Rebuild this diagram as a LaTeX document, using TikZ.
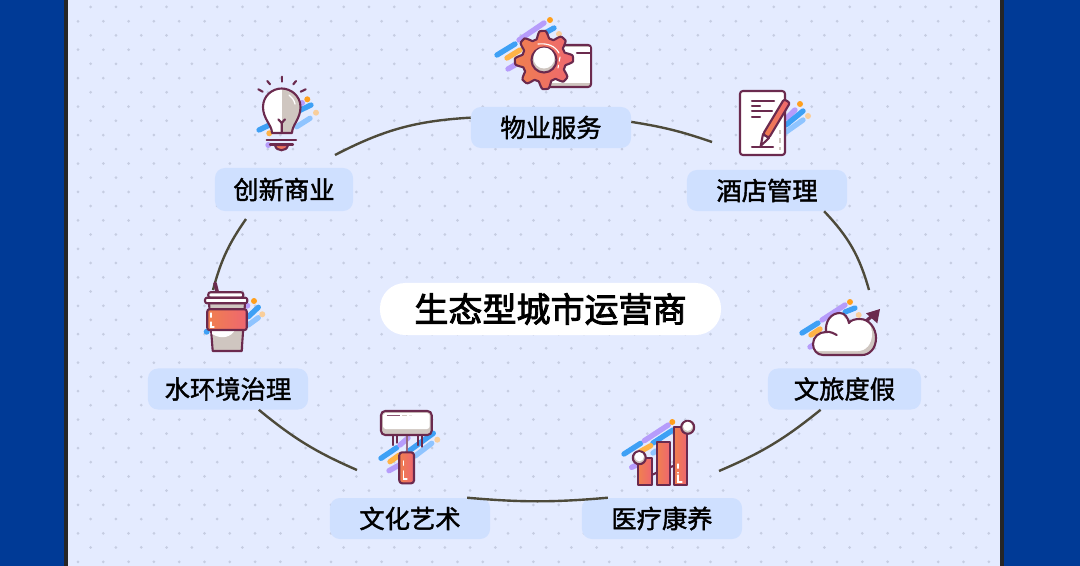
\documentclass[tikz,border=0pt]{standalone}
\usepackage{fontspec}
\usepackage{xcolor}
\setmainfont{Noto Sans CJK SC}
\newfontfamily\pillfont[FakeBold=1.6]{Noto Sans CJK SC}
\newfontfamily\hubfont[FakeBold=2.6]{Noto Sans CJK SC}
\definecolor{framecol}{HTML}{003A96}
\definecolor{panelcol}{HTML}{E4EBFF}
\definecolor{dotcol}{HTML}{C6CDE2}
\definecolor{pillcol}{HTML}{CFE0FF}
\definecolor{ringcol}{HTML}{4D4A3A}
\definecolor{inkcol}{HTML}{6B2A4E}
\definecolor{shadecol}{HTML}{CFC6C0}
\definecolor{redL}{HTML}{F0804F}
\definecolor{redR}{HTML}{EE6670}
\definecolor{bluecol}{HTML}{3EA0F5}
\definecolor{purplecol}{HTML}{B69CFB}
\definecolor{orangecol}{HTML}{FFB347}
\definecolor{ambercol}{HTML}{FF9F1C}
\definecolor{skycol}{HTML}{8FC4FF}
\definecolor{peachcol}{HTML}{F9CE9B}
\usetikzlibrary{positioning}
\tikzset{
    pill/.style={fill=pillcol, rounded corners=7pt, inner sep=0pt, minimum width=4cm, minimum height=1.025cm, font=\pillfont\fontsize{18}{18}\selectfont},
    hub/.style={fill=white, rounded corners=18pt, inner sep=0pt, minimum width=8.525cm, minimum height=1.3cm, font=\hubfont\fontsize{24.2}{24.2}\selectfont},
    griddot/.style={fill=dotcol},
    ring/.style={draw=ringcol, line width=1.7pt},
    icon/.style={draw=inkcol, line width=1.5pt, line join=round, line cap=round},
    redfill/.style={left color=redL, right color=redR},
    streak/.style={line width=3.8pt, line cap=round},
    spark/.style={white, line width=0.8pt, line cap=round},
}
\newcommand{\cloudpath}{(823,355) .. controls (817,355) and (813,350) .. (813,344) .. controls (813,337) and (819,332) .. (826,332) .. controls (825,321) and (831,313) .. (840,313) .. controls (845,313) and (848,318) .. (849,323) .. controls (851,320) and (855,319) .. (860,319) .. controls (869,319) and (876,328) .. (876,338) .. controls (876,348) and (870,355) .. (862,355) -- cycle}
\newcommand{\bulbpath}{(272,133) .. controls (272,125) and (263,119) .. (263,107) .. controls (263,96) and (272,88.5) .. (281.7,88.5) .. controls (291,88.5) and (300.5,96) .. (300.5,107) .. controls (300.5,119) and (292,125) .. (292,133) -- cycle}
\begin{document}
\begin{tikzpicture}[x=0.025cm, y=-0.025cm]
    \useasboundingbox (0,0) rectangle (1080,566);
    % backdrop
    \fill[framecol] (0,0) rectangle (1080,566);
    \fill[black!85] (64,0) rectangle (1004,566);
    \fill[panelcol] (68,0) rectangle (1000,566);
    \foreach \i in {0,...,36} \foreach \j in {0,...,19} {
        \fill[griddot] ({78+25.3*\i},{21.25+28.45*\j}) circle (1.5);
    }
    \foreach \i in {0,...,35} \foreach \j in {0,...,19} {
        \fill[griddot] ({90.65+25.3*\i},{6.9+28.45*\j}) circle (1.5);
    }
    % labels
    \node[hub] (center) at (550.5,309) {生态型城市运营商};
    \node[pill] (service) at (551,127.5) {物业服务};
    \node[pill] (hotel) at (767,190.5) {酒店管理};
    \node[pill, minimum width=3.825cm] (holiday) at (844.5,389) {文旅度假};
    \node[pill] (medical) at (662,518.5) {医疗康养};
    \node[pill] (culture) at (410,518.5) {文化艺术};
    \node[pill] (water) at (228,389) {水环境治理};
    \node[pill, minimum width=3.45cm, minimum height=1.075cm] (innov) at (284,189.5) {创新商业};
    % free ends of the ring
    \coordinate (innovTop) at (335,155);
    \coordinate (innovLow) at (246,219);
    \coordinate (cupTop) at (213,290);
    \coordinate (acLeft) at (357,470);
    \coordinate (chartRight) at (719,471);
    \coordinate (cloudTop) at (869,290);
    \coordinate (docLeft) at (712,142);
    \draw[ring] (service.173) to[bend right=12] (innovTop);
    \draw[ring] (innovLow) to[bend right=10] (cupTop);
    \draw[ring] (water.-34) to[bend right=8] (acLeft);
    \draw[ring] (culture.20) to[bend right=5] (medical.159);
    \draw[ring] (chartRight) to[bend right=8] (holiday.221);
    \draw[ring] (cloudTop) to[bend right=14] (hotel.-20);
    \draw[ring] (docLeft) to[bend right=5] (service.4);
    % gear
    \foreach \c/\a/\b in {bluecol/{(497,55)}/{(515,44)}, orangecol/{(507,58)}/{(520,50)}, purplecol/{(508,69)}/{(520,62)}, purplecol/{(519,40)}/{(544,23)}, bluecol/{(545,33)}/{(554,28)}} {
        \draw[streak, \c] \a -- \b;
    }
    \fill[ambercol] (550,20) circle (3);
    \fill[peachcol] (559,34) circle (3);
    \filldraw[icon, fill=shadecol, rounded corners=2pt] (545,45) rectangle (591,87);
    \fill[white] (547,47) rectangle (589.5,83);
    \draw[icon] (577,53.3) -- (590,53.3);
    \filldraw[icon, redfill] plot[domain=0:360, samples=145, smooth] ({544+(25.5+3.6*max(-1,min(1,1.5*cos(8*\x+22.5))))*cos(\x)},{60+(25.5+3.6*max(-1,min(1,1.5*cos(8*\x+22.5))))*sin(\x)}) -- cycle;
    \filldraw[icon, fill=shadecol] (544,60) circle (12.5);
    \fill[white] (544,58) circle (10.5);
    \draw[spark] (538,44) .. controls (548,43) and (555,46) .. (559,53);
    \draw[spark, dashed] (560,57) -- (558,68);
    % document
    \foreach \c/\a/\b in {purplecol/{(787,118)}/{(795,110)}, bluecol/{(786,125)}/{(803,111)}, skycol/{(786,132)}/{(803,120)}} {
        \draw[streak, \c] \a -- \b;
    }
    \fill[ambercol] (800,104) circle (3);
    \fill[peachcol] (808,116) circle (3);
    \filldraw[icon, fill=white, rounded corners=2pt] (740,91) rectangle (785,155);
    \foreach \a/\b/\yy in {752/774/100.7, 752/760/106, 752/772/111, 752/760/116.7, 752/773/146.7} {
        \draw[icon] (\a,\yy) -- (\b,\yy);
    }
    \draw[shadecol, line width=1.2pt, dashed] (780,130) -- (780,150);
    \filldraw[icon, fill=white] (769,137.8) -- (763,134.2) -- (760.7,146) -- cycle;
    \filldraw[icon, redfill, rounded corners=1.5pt] (769,137.8) -- (790,102.8) -- (784,99.2) -- (763,134.2) -- cycle;
    % cloud
    \foreach \c/\a/\b in {bluecol/{(802,333)}/{(818,323)}, orangecol/{(811,335)}/{(820,329)}, purplecol/{(810,347)}/{(815,344)}, purplecol/{(822,320)}/{(845,305)}, bluecol/{(845,312)}/{(855,308)}} {
        \draw[streak, \c] \a -- \b;
    }
    \fill[ambercol] (850,302) circle (3);
    \fill[peachcol] (858.7,315) circle (3);
    \draw[inkcol, line width=2.4pt] (872,316) -- (858,328);
    \fill[inkcol] (880,309) -- (866,313.3) -- (877.3,323.3) -- cycle;
    \fill[shadecol] \cloudpath;
    \begin{scope}
        \clip \cloudpath;
        \fill[white, shift={(-4,-4)}] \cloudpath;
    \end{scope}
    \draw[icon] \cloudpath;
    \draw[icon] (826,332) .. controls (830,331) and (835,334) .. (836.7,335);
    % chart
    \foreach \c/\a/\b in {bluecol/{(624,454)}/{(640.7,443.3)}, purplecol/{(644.3,440.7)}/{(668.3,425)}, bluecol/{(653,443)}/{(673,430)}, orangecol/{(640,451.7)}/{(650.7,445.7)}, purplecol/{(631.7,467.3)}/{(636.7,465)}, skycol/{(653,453)}/{(656,451)}} {
        \draw[streak, \c] \a -- \b;
    }
    \fill[ambercol] (672.3,422) circle (3);
    \draw[icon] (651.7,475) -- (656.7,472.7);
    \draw[icon] (670,467.3) -- (674,465.7);
    \foreach \xa/\xb/\yy in {638.3/651.7/458.3, 656.7/670/441.7, 674/687.3/426.7} {
        \filldraw[icon, redfill] (\xa,\yy) rectangle (\xb,485);
    }
    \draw[spark, dashed] (678,464) -- (678,473);
    \draw[spark] (678,475) -- (678,482) -- (682,482);
    \foreach \cx/\cy in {639.3/457.7, 687.7/427.3} {
        \filldraw[icon, fill=shadecol] (\cx,\cy) circle (6.5);
        \fill[white] (\cx,\cy-1) circle (4.6);
    }
    % air conditioner
    \foreach \c/\a/\b in {bluecol/{(381,458.3)}/{(396.7,447.7)}, purplecol/{(400,445)}/{(408,438)}, bluecol/{(408,451.7)}/{(433.3,433.3)}, orangecol/{(390,461.7)}/{(399.3,455)}, skycol/{(415,456)}/{(431.7,443.3)}, purplecol/{(389,470.7)}/{(399.3,465)}} {
        \draw[streak, \c] \a -- \b;
    }
    \fill[peachcol] (437.3,439.7) circle (3);
    \foreach \xx/\yy in {393.3/445, 397.3/442.7, 418.3/445, 422.3/446.7} {
        \draw[icon] (\xx,435) -- (\xx,\yy);
    }
    \draw[inkcol!70, line width=1.6pt] (406.7,435) -- (406.7,452);
    \filldraw[icon, fill=shadecol, rounded corners=3pt] (381,411) rectangle (431.7,435);
    \fill[white, rounded corners=2pt] (383,413) rectangle (429.7,429);
    \draw[inkcol!80, line width=1.2pt] (386.7,415.5) -- (400,415.5);
    \draw[shadecol, line width=1.2pt] (402,415.5) -- (407,415.5);
    \draw[shadecol!50, line width=1.2pt] (409,415.5) -- (412,415.5);
    \filldraw[icon, redfill, rounded corners=2pt] (399.3,452.3) rectangle (414,483.3);
    \draw[spark, dashed] (403.5,461) -- (403.5,469);
    \draw[spark] (403.5,471) -- (403.5,479) -- (407,479);
    % cup
    \foreach \c/\a/\b in {bluecol/{(248.3,316.7)}/{(258.3,307.3)}, skycol/{(248.3,325)}/{(258.3,317.7)}} {
        \draw[streak, \c] \a -- \b;
    }
    \fill[purplecol] (247.3,305.7) circle (3);
    \fill[ambercol] (254,301) circle (3);
    \fill[peachcol] (262.3,314.3) circle (3);
    \fill[bluecol] (206.7,331.7) circle (3);
    \draw[inkcol, line width=2.6pt, line cap=round] (215,283.3) -- (217.3,292.3);
    \filldraw[icon, fill=shadecol] (209,303) -- (212.7,351) -- (241.7,351) -- (245,303) -- cycle;
    \fill[white] (212,334) .. controls (222,340) and (231,337) .. (235,330) -- (212,330) -- cycle;
    \filldraw[icon, fill=white, rounded corners=1.5pt] (208.3,292.3) rectangle (243.3,297.7);
    \filldraw[icon, fill=white, rounded corners=1.5pt] (205,297.7) rectangle (247.3,303.3);
    \filldraw[icon, redfill, rounded corners=1.5pt] (207.3,309.3) rectangle (246.7,330);
    \draw[spark, dashed] (211,313) -- (211,320);
    \draw[spark] (211,322) -- (211,327) -- (214,327);
    % bulb
    \foreach \c/\a/\b in {bluecol/{(259,130)}/{(311,105)}, skycol/{(296.7,126.7)}/{(310,118.3)}} {
        \draw[streak, \c] \a -- \b;
    }
    \fill[purplecol] (302,103) circle (3);
    \fill[ambercol] (307.3,99.3) circle (3);
    \fill[peachcol] (316,112.7) circle (3);
    \fill[orangecol] (269.3,133.3) circle (3);
    \fill[purplecol] (268.3,145) circle (3);
    \foreach \xa/\ya/\xb/\yb in {281.7/76.7/281.7/81.7, 267.3/81/270/84.3, 296/81/293.3/84.3, 258.3/89.3/262.7/91.7, 305.7/89.3/300.7/91.7} {
        \draw[icon] (\xa,\ya) -- (\xb,\yb);
    }
    \fill[white] \bulbpath;
    \begin{scope}
        \clip \bulbpath;
        \fill[shadecol] (281.7,85) rectangle (305,135);
    \end{scope}
    \draw[icon] \bulbpath;
    \draw[white, line width=0.9pt, line cap=round] (289,95) .. controls (292,97) and (294,100) .. (295,104);
    \draw[icon] (281.7,133) -- (281.7,123) -- (278.3,119.3);
    \draw[icon] (281.7,123) -- (285,119.3);
    \draw[icon] (266.7,140) -- (296,140);
    \draw[icon] (270,144.5) -- (293,144.5);
    \filldraw[icon, redfill] (275,145) .. controls (276,152) and (287,152) .. (288,145) -- cycle;
\end{tikzpicture}
\end{document}
